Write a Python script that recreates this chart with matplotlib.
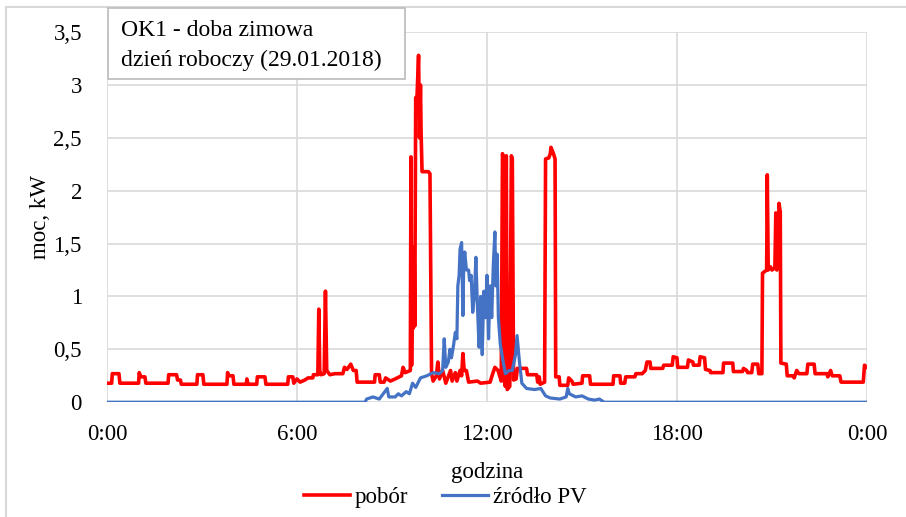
import matplotlib
matplotlib.use("Agg")
import matplotlib.pyplot as plt
from matplotlib.patches import Rectangle

plt.rcParams['font.family'] = ['Liberation Serif', 'DejaVu Serif']

# pobór (kW) - breakpoints, time in hours
pobor_h = [0.0, 0.15, 0.17, 0.38, 0.41, 1.0, 1.02, 1.07, 1.2, 1.23, 1.93, 1.95, 2.2, 2.23, 2.32, 2.35,
           2.84, 2.86, 3.03, 3.06, 3.79, 3.81, 3.85, 3.98, 4.01, 4.4, 4.42, 4.46, 4.73, 4.75, 4.99, 5.02,
           5.71, 5.73, 5.87, 5.9, 6.0, 6.1, 6.25, 6.35, 6.5, 6.52, 6.66, 6.69, 6.72, 6.76, 6.86, 6.9,
           6.94, 7.04, 7.2, 7.45, 7.5, 7.58, 7.7, 7.78, 7.87, 7.9, 8.45, 8.47, 8.6, 8.63, 8.75, 8.8,
           8.95, 9.1, 9.3, 9.35, 9.42, 9.5, 9.58, 9.6, 9.62, 9.65, 9.67, 9.7, 9.72, 9.75, 9.79, 9.84,
           9.87, 9.9, 9.92, 9.95, 10.15, 10.2, 10.25, 10.3, 10.4, 10.45, 10.5, 10.6, 10.7, 10.75, 10.85, 10.9,
           11.0, 11.05, 11.15, 11.2, 11.24, 11.28, 11.35, 11.42, 11.7, 11.8, 12.1, 12.17, 12.25, 12.35, 12.45, 12.49,
           12.52, 12.55, 12.58, 12.61, 12.64, 12.72, 12.77, 12.8, 12.84, 12.92, 12.96, 13.25, 13.28, 13.57, 13.6, 13.65,
           13.68, 13.82, 13.85, 13.95, 14.0, 14.02, 14.1, 14.15, 14.17, 14.28, 14.3, 14.55, 14.58, 14.68, 14.72, 15.0,
           15.02, 15.24, 15.27, 15.98, 16.0, 16.2, 16.22, 16.35, 16.38, 16.67, 16.7, 16.9, 17.0, 17.05, 17.15, 17.17,
           17.55, 17.58, 17.85, 17.88, 18.0, 18.02, 18.33, 18.36, 18.5, 18.52, 18.7, 18.73, 18.87, 18.9, 19.04, 19.06,
           19.45, 19.47, 19.76, 19.78, 20.07, 20.1, 20.2, 20.23, 20.36, 20.39, 20.55, 20.58, 20.68, 20.7, 20.83, 20.85,
           20.88, 20.95, 21.0, 21.09, 21.12, 21.15, 21.2, 21.22, 21.26, 21.28, 21.45, 21.48, 21.65, 21.7, 21.78, 21.85,
           22.1, 22.13, 22.33, 22.36, 22.73, 22.76, 22.85, 22.9, 23.14, 23.18, 23.88, 23.92, 24.0]
pobor_kw = [0.18, 0.18, 0.27, 0.27, 0.18, 0.18, 0.28, 0.24, 0.24, 0.18, 0.18, 0.26, 0.26, 0.21, 0.21, 0.17,
            0.17, 0.26, 0.26, 0.17, 0.17, 0.28, 0.25, 0.25, 0.17, 0.17, 0.22, 0.17, 0.17, 0.24, 0.24, 0.17,
            0.17, 0.24, 0.24, 0.18, 0.22, 0.19, 0.21, 0.23, 0.23, 0.26, 0.26, 0.88, 0.30, 0.26, 0.27, 1.05,
            0.30, 0.26, 0.27, 0.27, 0.33, 0.31, 0.36, 0.30, 0.30, 0.19, 0.19, 0.26, 0.26, 0.19, 0.19, 0.23,
            0.20, 0.22, 0.25, 0.33, 0.28, 0.29, 0.30, 2.32, 0.35, 1.47, 0.70, 1.45, 0.72, 2.88, 2.88, 3.28,
            2.50, 3.00, 2.55, 2.18, 2.18, 2.16, 0.27, 0.20, 0.25, 0.38, 0.22, 0.30, 0.18, 0.22, 0.30, 0.20,
            0.28, 0.20, 0.30, 0.25, 0.46, 0.30, 0.30, 0.19, 0.20, 0.18, 0.19, 0.26, 0.33, 0.30, 0.20, 2.35,
            2.30, 0.20, 0.15, 2.33, 0.12, 0.15, 2.33, 2.30, 0.21, 0.22, 0.32, 0.32, 0.26, 0.26, 0.19, 0.24,
            0.17, 0.19, 2.30, 2.31, 2.35, 2.41, 2.35, 2.30, 0.24, 0.24, 0.16, 0.16, 0.23, 0.20, 0.17, 0.18,
            0.25, 0.25, 0.17, 0.17, 0.25, 0.25, 0.18, 0.18, 0.24, 0.24, 0.27, 0.27, 0.30, 0.38, 0.38, 0.32,
            0.32, 0.35, 0.35, 0.43, 0.42, 0.33, 0.33, 0.40, 0.38, 0.35, 0.35, 0.43, 0.42, 0.31, 0.30, 0.28,
            0.28, 0.37, 0.37, 0.29, 0.29, 0.32, 0.30, 0.28, 0.28, 0.36, 0.36, 0.27, 0.27, 1.22, 1.25, 2.15,
            1.25, 1.28, 1.25, 1.27, 1.79, 1.25, 1.30, 1.88, 1.80, 0.37, 0.36, 0.25, 0.25, 0.23, 0.30, 0.27,
            0.27, 0.36, 0.36, 0.27, 0.27, 0.24, 0.30, 0.25, 0.25, 0.19, 0.19, 0.35, 0.33]

# źródło PV (kW)
pv_h = [0.0, 8.15, 8.2, 8.4, 8.6, 8.75, 8.85, 8.9, 9.1, 9.2, 9.3, 9.45, 9.55, 9.65, 9.75, 9.9,
        10.1, 10.3, 10.5, 10.6, 10.65, 10.7, 10.78, 10.83, 10.88, 10.95, 11.0, 11.05, 11.08, 11.12, 11.15, 11.2,
        11.24, 11.27, 11.3, 11.35, 11.42, 11.45, 11.5, 11.55, 11.6, 11.65, 11.7, 11.75, 11.8, 11.85, 11.9, 11.95,
        12.0, 12.05, 12.1, 12.15, 12.2, 12.25, 12.28, 12.32, 12.36, 12.42, 12.5, 12.58, 12.7, 12.8, 12.9, 12.95,
        13.02, 13.1, 13.25, 13.5, 13.7, 13.85, 14.0, 14.3, 14.5, 14.55, 14.6, 14.8, 15.0, 15.2, 15.4, 15.55,
        15.7, 24.0]
pv_kw = [0.0, 0.0, 0.03, 0.05, 0.03, 0.09, 0.13, 0.05, 0.05, 0.08, 0.06, 0.10, 0.08, 0.18, 0.14, 0.23,
         0.25, 0.28, 0.27, 0.30, 0.60, 0.33, 0.38, 0.50, 0.42, 0.55, 0.66, 0.60, 1.10, 1.20, 1.45, 1.51,
         0.82, 1.35, 1.42, 1.25, 1.25, 1.15, 1.20, 0.85, 1.00, 1.37, 0.90, 0.52, 1.00, 0.45, 1.05, 0.80,
         1.20, 0.60, 1.10, 0.80, 1.30, 1.61, 1.10, 1.40, 0.80, 0.55, 0.40, 0.27, 0.30, 0.30, 0.45, 0.63,
         0.40, 0.18, 0.13, 0.12, 0.13, 0.06, 0.04, 0.03, 0.05, 0.13, 0.08, 0.05, 0.06, 0.03, 0.02, 0.03,
         0.0, 0.0]

y_ticks = [0, 0.5, 1, 1.5, 2, 2.5, 3, 3.5]
y_labels = ['0', '0,5', '1', '1,5', '2', '2,5', '3', '3,5']
x_ticks = [0, 6, 12, 18, 24]
x_labels = ['0:00', '6:00', '12:00', '18:00', '0:00']

fig = plt.figure(figsize=(9.06, 5.17), dpi=100)
ax = fig.add_axes([0.118, 0.222, 0.839, 0.716])

grid_c = '#d9d9d9'
ax.plot(pobor_h, pobor_kw, color='#ff0000', lw=2.6, label='pobór', zorder=3)
ax.plot(pv_h, pv_kw, color='#4472c4', lw=2.3, label='źródło PV', zorder=4)

ax.set_xlim(0, 24)
ax.set_ylim(0, 3.5)
ax.set_xticks(x_ticks)
ax.set_xticklabels(x_labels)
ax.set_yticks(y_ticks)
ax.set_yticklabels(y_labels)
ax.grid(True, color=grid_c, lw=1.2)
ax.set_axisbelow(True)
for s in ax.spines.values():
    s.set_visible(False)
ax.tick_params(axis='y', length=0, pad=18, labelsize=16.5)
ax.tick_params(axis='x', length=0, pad=16, labelsize=16.5)
ax.set_xlabel('godzina', fontsize=16.5, labelpad=12)
ax.set_ylabel('moc, kW', fontsize=16.5, labelpad=2)

# outer chart border
fig.patches.append(Rectangle((6 / 906, -0.1), 1.0, 1 - 7 / 517 + 0.1, transform=fig.transFigure,
                             fill=False, edgecolor=grid_c, lw=1.5))

# title box
fig.patches.append(Rectangle((108 / 906, 1 - 79 / 517), 297 / 906, 71 / 517, transform=fig.transFigure,
                             facecolor='white', edgecolor='#bfbfbf', lw=1.3, zorder=5))
fig.text(121 / 906, 1 - 30 / 517, 'OK1 - doba zimowa', fontsize=17, va='center', ha='left', zorder=6)
fig.text(121 / 906, 1 - 60 / 517, 'dzień roboczy (29.01.2018)', fontsize=17, va='center', ha='left', zorder=6)

fig.legend(loc='center', bbox_to_anchor=(445 / 906, 1 - 497 / 517), ncol=2, frameon=False,
           fontsize=16.5, handlelength=2.0, handletextpad=0.2, columnspacing=1.5)

fig.savefig('out.png', dpi=100)
